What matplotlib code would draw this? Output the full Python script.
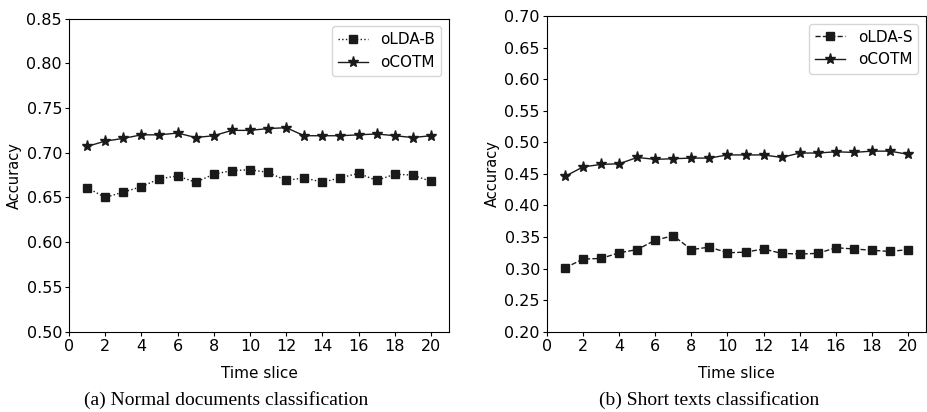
import numpy as np
import matplotlib
matplotlib.use("Agg")
import matplotlib.pyplot as plt

time_slices = list(range(1, 21))

# (a) normal documents
olda_b = [0.661, 0.650, 0.656, 0.662, 0.671, 0.674, 0.667, 0.676, 0.680, 0.681,
          0.678, 0.669, 0.672, 0.667, 0.672, 0.677, 0.669, 0.676, 0.675, 0.668]
ocotm_a = [0.707, 0.713, 0.716, 0.720, 0.720, 0.722, 0.717, 0.719, 0.725, 0.725,
           0.727, 0.728, 0.719, 0.719, 0.719, 0.720, 0.721, 0.719, 0.717, 0.719]

# (b) short texts
olda_s = [0.301, 0.315, 0.316, 0.325, 0.330, 0.345, 0.352, 0.330, 0.334, 0.325,
          0.326, 0.331, 0.324, 0.323, 0.324, 0.333, 0.331, 0.329, 0.327, 0.330]
ocotm_b = [0.446, 0.461, 0.465, 0.466, 0.476, 0.473, 0.474, 0.475, 0.475, 0.480,
           0.480, 0.480, 0.476, 0.483, 0.483, 0.485, 0.484, 0.486, 0.486, 0.481]

line_color = "#1a1a1a"

fig = plt.figure(figsize=(9.27, 4.12), dpi=100)
ax1 = fig.add_axes([0.0744, 0.195, 0.410, 0.760])
ax2 = fig.add_axes([0.590, 0.195, 0.409, 0.766])

ax1.plot(time_slices, olda_b, linestyle=":", marker="s", markersize=6,
         color=line_color, linewidth=1, label="oLDA-B")
ax1.plot(time_slices, ocotm_a, linestyle="-", marker="*", markersize=8,
         color=line_color, linewidth=1, label="oCOTM")
ax1.set_ylim(0.50, 0.85)
ax1.set_yticks(np.arange(0.50, 0.851, 0.05))

ax2.plot(time_slices, olda_s, linestyle="--", marker="s", markersize=6,
         color=line_color, linewidth=1, label="oLDA-S")
ax2.plot(time_slices, ocotm_b, linestyle="-", marker="*", markersize=8,
         color=line_color, linewidth=1, label="oCOTM")
ax2.set_ylim(0.20, 0.70)
ax2.set_yticks(np.arange(0.20, 0.701, 0.05))

for ax in (ax1, ax2):
    ax.set_xlim(0, 21)
    ax.set_xticks(range(0, 21, 2))
    ax.yaxis.set_major_formatter(matplotlib.ticker.FormatStrFormatter("%.2f"))
    ax.tick_params(labelsize=11.5, length=3, pad=2)
    ax.set_xlabel("Time slice", fontsize=11, labelpad=9)
    ax.set_ylabel("Accuracy", fontsize=10.5, labelpad=3.5)
    ax.legend(loc="upper right", fontsize=11)

fig.text(0.244, 0.03, "(a) Normal documents classification", ha="center",
         va="center", family="Liberation Serif", fontsize=14)
fig.text(0.765, 0.03, "(b) Short texts classification", ha="center",
         va="center", family="Liberation Serif", fontsize=14)

fig.savefig("out.png", dpi=100)
